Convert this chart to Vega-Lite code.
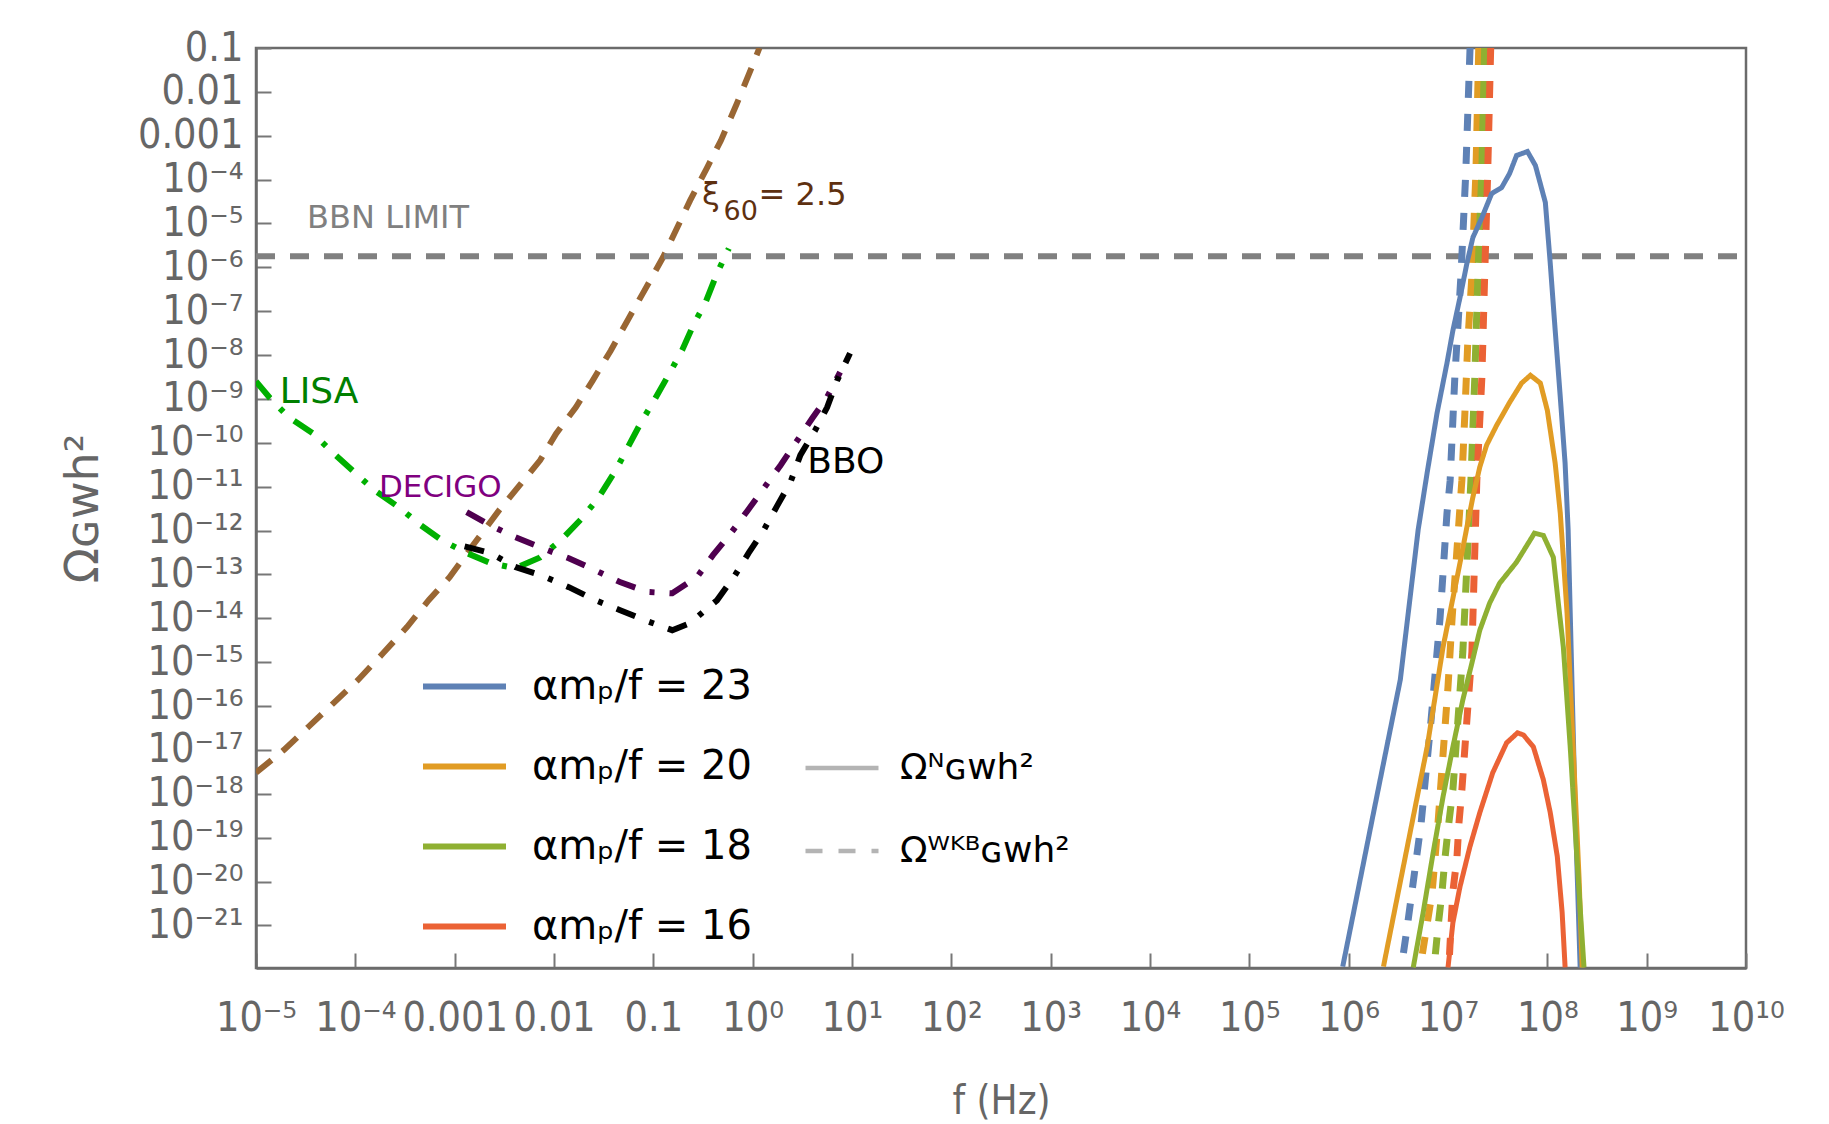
{
  "$schema": "https://vega.github.io/schema/vega-lite/v6.json",
  "width": 1490,
  "height": 920,
  "autosize": "none",
  "padding": {"left": 256, "top": 48, "right": 83, "bottom": 156},
  "background": "white",
  "config": {"view": {"stroke": "#6b6b6b", "strokeWidth": 2.5}, "font": "DejaVu Sans"},
  "datasets": {
    "sig": [
      {"a":"23","k":"N","f":8.71e5,"o":1.15e-22},{"a":"23","k":"N","f":1.12e6,"o":1.95e-21},{"a":"23","k":"N","f":1.78e6,"o":3.72e-19},{"a":"23","k":"N","f":3.31e6,"o":3.98e-16},{"a":"23","k":"N","f":5.01e6,"o":1.05e-12},{"a":"23","k":"N","f":6.17e6,"o":2.09e-11},{"a":"23","k":"N","f":7.76e6,"o":4.79e-10},{"a":"23","k":"N","f":9.77e6,"o":6.61e-9},{"a":"23","k":"N","f":1.12e7,"o":3.63e-8},{"a":"23","k":"N","f":1.32e7,"o":2.04e-7},{"a":"23","k":"N","f":1.55e7,"o":1.23e-6},{"a":"23","k":"N","f":1.78e7,"o":4.79e-6},{"a":"23","k":"N","f":2.19e7,"o":1.35e-5},{"a":"23","k":"N","f":2.75e7,"o":4.79e-5},{"a":"23","k":"N","f":3.47e7,"o":6.61e-5},{"a":"23","k":"N","f":4.17e7,"o":1.38e-4},{"a":"23","k":"N","f":4.90e7,"o":3.55e-4},{"a":"23","k":"N","f":6.31e7,"o":4.37e-4},{"a":"23","k":"N","f":7.59e7,"o":2.09e-4},{"a":"23","k":"N","f":9.55e7,"o":3.02e-5},{"a":"23","k":"N","f":1.07e8,"o":1.23e-6},{"a":"23","k":"N","f":1.20e8,"o":3.63e-8},{"a":"23","k":"N","f":1.35e8,"o":1.10e-9},{"a":"23","k":"N","f":1.51e8,"o":3.39e-11},{"a":"23","k":"N","f":1.62e8,"o":1.02e-12},{"a":"23","k":"N","f":1.70e8,"o":1.32e-14},{"a":"23","k":"N","f":1.91e8,"o":3.72e-19},{"a":"23","k":"N","f":2.14e8,"o":1.10e-22},
      {"a":"20","k":"N","f":2.24e6,"o":1.15e-22},{"a":"20","k":"N","f":3.89e6,"o":6.17e-20},{"a":"20","k":"N","f":6.17e6,"o":1.17e-17},{"a":"20","k":"N","f":8.91e6,"o":2.19e-15},{"a":"20","k":"N","f":1.32e7,"o":1.82e-13},{"a":"20","k":"N","f":1.55e7,"o":1.20e-12},{"a":"20","k":"N","f":1.78e7,"o":5.75e-12},{"a":"20","k":"N","f":1.95e7,"o":1.41e-11},{"a":"20","k":"N","f":2.09e7,"o":2.82e-11},{"a":"20","k":"N","f":2.45e7,"o":8.91e-11},{"a":"20","k":"N","f":3.09e7,"o":2.51e-10},{"a":"20","k":"N","f":4.17e7,"o":8.32e-10},{"a":"20","k":"N","f":5.50e7,"o":2.29e-9},{"a":"20","k":"N","f":6.76e7,"o":3.47e-9},{"a":"20","k":"N","f":8.51e7,"o":2.29e-9},{"a":"20","k":"N","f":1.00e8,"o":5.50e-10},{"a":"20","k":"N","f":1.20e8,"o":3.39e-11},{"a":"20","k":"N","f":1.35e8,"o":2.51e-12},{"a":"20","k":"N","f":1.58e8,"o":1.32e-14},{"a":"20","k":"N","f":1.82e8,"o":1.17e-17},{"a":"20","k":"N","f":2.09e8,"o":1.10e-20},{"a":"20","k":"N","f":2.24e8,"o":1.10e-22},
      {"a":"18","k":"N","f":4.47e6,"o":1.10e-22},{"a":"18","k":"N","f":5.62e6,"o":1.95e-21},{"a":"18","k":"N","f":7.08e6,"o":4.47e-20},{"a":"18","k":"N","f":8.91e6,"o":8.51e-19},{"a":"18","k":"N","f":1.12e7,"o":1.17e-17},{"a":"18","k":"N","f":1.41e7,"o":1.38e-16},{"a":"18","k":"N","f":1.74e7,"o":9.55e-16},{"a":"18","k":"N","f":2.09e7,"o":5.37e-15},{"a":"18","k":"N","f":2.63e7,"o":2.24e-14},{"a":"18","k":"N","f":3.31e7,"o":6.31e-14},{"a":"18","k":"N","f":4.90e7,"o":1.91e-13},{"a":"18","k":"N","f":7.41e7,"o":8.71e-13},{"a":"18","k":"N","f":9.12e7,"o":7.76e-13},{"a":"18","k":"N","f":1.15e8,"o":2.45e-13},{"a":"18","k":"N","f":1.29e8,"o":2.24e-14},{"a":"18","k":"N","f":1.45e8,"o":2.19e-15},{"a":"18","k":"N","f":1.70e8,"o":1.17e-17},{"a":"18","k":"N","f":2.00e8,"o":2.69e-20},{"a":"18","k":"N","f":2.34e8,"o":1.10e-22},
      {"a":"16","k":"N","f":1.00e7,"o":1.10e-22},{"a":"16","k":"N","f":1.12e7,"o":1.15e-21},{"a":"16","k":"N","f":1.32e7,"o":7.59e-21},{"a":"16","k":"N","f":1.66e7,"o":6.17e-20},{"a":"16","k":"N","f":2.09e7,"o":3.72e-19},{"a":"16","k":"N","f":2.82e7,"o":3.02e-18},{"a":"16","k":"N","f":3.89e7,"o":1.45e-17},{"a":"16","k":"N","f":5.01e7,"o":2.45e-17},{"a":"16","k":"N","f":5.75e7,"o":2.19e-17},{"a":"16","k":"N","f":7.24e7,"o":1.17e-17},{"a":"16","k":"N","f":9.12e7,"o":2.09e-18},{"a":"16","k":"N","f":1.07e8,"o":3.72e-19},{"a":"16","k":"N","f":1.26e8,"o":3.72e-20},{"a":"16","k":"N","f":1.41e8,"o":1.95e-21},{"a":"16","k":"N","f":1.51e8,"o":1.10e-22},
      {"a":"23","k":"WKB","f":1.667e7,"o":0.1},{"a":"23","k":"WKB","f":1.51e7,"o":1.45e-4},{"a":"23","k":"WKB","f":1.35e7,"o":6.46e-7},{"a":"23","k":"WKB","f":1.17e7,"o":2.95e-9},{"a":"23","k":"WKB","f":1.05e7,"o":1.35e-11},{"a":"23","k":"WKB","f":9.77e6,"o":2.51e-12},{"a":"23","k":"WKB","f":8.32e6,"o":1.02e-14},{"a":"23","k":"WKB","f":6.76e6,"o":4.90e-17},{"a":"23","k":"WKB","f":5.37e6,"o":2.19e-19},{"a":"23","k":"WKB","f":3.89e6,"o":9.33e-22},{"a":"23","k":"WKB","f":3.39e6,"o":1.10e-22},
      {"a":"20","k":"WKB","f":2.04e7,"o":0.1},{"a":"20","k":"WKB","f":1.91e7,"o":1.45e-4},{"a":"20","k":"WKB","f":1.74e7,"o":6.46e-7},{"a":"20","k":"WKB","f":1.58e7,"o":1.82e-8},{"a":"20","k":"WKB","f":1.48e7,"o":4.90e-10},{"a":"20","k":"WKB","f":1.38e7,"o":1.41e-11},{"a":"20","k":"WKB","f":1.23e7,"o":3.55e-13},{"a":"20","k":"WKB","f":1.10e7,"o":1.02e-14},{"a":"20","k":"WKB","f":1.00e7,"o":2.75e-16},{"a":"20","k":"WKB","f":8.91e6,"o":7.76e-18},{"a":"20","k":"WKB","f":7.94e6,"o":2.19e-19},{"a":"20","k":"WKB","f":6.92e6,"o":5.62e-21},{"a":"20","k":"WKB","f":5.25e6,"o":1.10e-22},
      {"a":"18","k":"WKB","f":2.34e7,"o":0.1},{"a":"18","k":"WKB","f":2.19e7,"o":1.45e-4},{"a":"18","k":"WKB","f":2.00e7,"o":6.46e-7},{"a":"18","k":"WKB","f":1.86e7,"o":2.95e-9},{"a":"18","k":"WKB","f":1.70e7,"o":1.35e-11},{"a":"18","k":"WKB","f":1.41e7,"o":1.70e-15},{"a":"18","k":"WKB","f":1.26e7,"o":4.90e-17},{"a":"18","k":"WKB","f":1.12e7,"o":1.23e-18},{"a":"18","k":"WKB","f":1.02e7,"o":2.19e-19},{"a":"18","k":"WKB","f":9.33e6,"o":3.47e-20},{"a":"18","k":"WKB","f":8.71e6,"o":5.89e-21},{"a":"18","k":"WKB","f":7.94e6,"o":9.33e-22},{"a":"18","k":"WKB","f":7.24e6,"o":1.10e-22},
      {"a":"16","k":"WKB","f":2.69e7,"o":0.1},{"a":"16","k":"WKB","f":2.51e7,"o":1.45e-4},{"a":"16","k":"WKB","f":2.34e7,"o":6.46e-7},{"a":"16","k":"WKB","f":2.19e7,"o":2.95e-9},{"a":"16","k":"WKB","f":1.95e7,"o":1.35e-11},{"a":"16","k":"WKB","f":1.74e7,"o":1.70e-15},{"a":"16","k":"WKB","f":1.55e7,"o":4.90e-17},{"a":"16","k":"WKB","f":1.38e7,"o":1.23e-18},{"a":"16","k":"WKB","f":1.29e7,"o":2.19e-19},{"a":"16","k":"WKB","f":1.23e7,"o":3.47e-20},{"a":"16","k":"WKB","f":1.12e7,"o":5.89e-21},{"a":"16","k":"WKB","f":1.07e7,"o":9.33e-22},{"a":"16","k":"WKB","f":1.02e7,"o":1.10e-22}
    ],
    "det": [
      {"c":"xi","f":1e-5,"o":3.02e-18},{"c":"xi","f":1.91e-5,"o":1e-17},{"c":"xi","f":3.39e-5,"o":3.39e-17},{"c":"xi","f":6.03e-5,"o":1.17e-16},{"c":"xi","f":1.07e-4,"o":3.98e-16},{"c":"xi","f":1.91e-4,"o":1.62e-15},{"c":"xi","f":3.31e-4,"o":6.31e-15},{"c":"xi","f":5.50e-4,"o":2.63e-14},{"c":"xi","f":8.91e-4,"o":8.71e-14},{"c":"xi","f":1.58e-3,"o":5.13e-13},{"c":"xi","f":2.82e-3,"o":2.95e-12},{"c":"xi","f":7.24e-3,"o":3.98e-11},{"c":"xi","f":1.05e-2,"o":1.62e-10},{"c":"xi","f":1.66e-2,"o":6.46e-10},{"c":"xi","f":2.45e-2,"o":2.63e-9},{"c":"xi","f":3.72e-2,"o":1.26e-8},{"c":"xi","f":5.50e-2,"o":6.17e-8},{"c":"xi","f":8.13e-2,"o":2.95e-7},{"c":"xi","f":0.126,"o":1.74e-6},{"c":"xi","f":0.234,"o":3.31e-5},{"c":"xi","f":0.347,"o":1.86e-4},{"c":"xi","f":0.479,"o":7.76e-4},{"c":"xi","f":0.692,"o":5.37e-3},{"c":"xi","f":1.02,"o":4.57e-2},{"c":"xi","f":1.17,"o":0.1},
      {"c":"lisa","f":1e-5,"o":2.51e-9},{"c":"lisa","f":1.38e-5,"o":1.05e-9},{"c":"lisa","f":2.14e-5,"o":3.80e-10},{"c":"lisa","f":3.72e-5,"o":1.66e-10},{"c":"lisa","f":6.03e-5,"o":5.75e-11},{"c":"lisa","f":9.77e-5,"o":2.14e-11},{"c":"lisa","f":1.55e-4,"o":8.32e-12},{"c":"lisa","f":2.75e-4,"o":3.39e-12},{"c":"lisa","f":4.57e-4,"o":1.32e-12},{"c":"lisa","f":7.41e-4,"o":6.03e-13},{"c":"lisa","f":1.32e-3,"o":3.09e-13},{"c":"lisa","f":2.29e-3,"o":1.82e-13},{"c":"lisa","f":4.07e-3,"o":1.38e-13},{"c":"lisa","f":7.24e-3,"o":2.45e-13},{"c":"lisa","f":1.17e-2,"o":6.03e-13},{"c":"lisa","f":1.95e-2,"o":2.0e-12},{"c":"lisa","f":2.82e-2,"o":5.75e-12},{"c":"lisa","f":4.17e-2,"o":2.34e-11},{"c":"lisa","f":7.41e-2,"o":2.75e-10},{"c":"lisa","f":0.102,"o":9.33e-10},{"c":"lisa","f":0.145,"o":3.80e-9},{"c":"lisa","f":0.195,"o":1.29e-8},{"c":"lisa","f":0.257,"o":5.25e-8},{"c":"lisa","f":0.331,"o":1.48e-7},{"c":"lisa","f":0.437,"o":7.24e-7},{"c":"lisa","f":0.575,"o":2.69e-6},
      {"c":"decigo","f":1.32e-3,"o":2.63e-12},{"c":"decigo","f":2.29e-3,"o":1.32e-12},{"c":"decigo","f":4.07e-3,"o":7.08e-13},{"c":"decigo","f":7.24e-3,"o":4.17e-13},{"c":"decigo","f":1.41e-2,"o":2.34e-13},{"c":"decigo","f":2.57e-2,"o":1.26e-13},{"c":"decigo","f":4.68e-2,"o":6.61e-14},{"c":"decigo","f":8.71e-2,"o":3.98e-14},{"c":"decigo","f":0.155,"o":3.72e-14},{"c":"decigo","f":0.275,"o":8.71e-14},{"c":"decigo","f":0.398,"o":2.75e-13},{"c":"decigo","f":0.603,"o":8.71e-13},{"c":"decigo","f":0.891,"o":2.88e-12},{"c":"decigo","f":1.29,"o":9.12e-12},{"c":"decigo","f":1.91,"o":3.09e-11},{"c":"decigo","f":2.69,"o":9.77e-11},{"c":"decigo","f":3.98,"o":3.63e-10},{"c":"decigo","f":5.62,"o":1.10e-9},{"c":"decigo","f":7.59,"o":4.07e-9},
      {"c":"bbo","f":1.26e-3,"o":4.37e-13},{"c":"bbo","f":2.29e-3,"o":3.09e-13},{"c":"bbo","f":4.07e-3,"o":1.48e-13},{"c":"bbo","f":7.24e-3,"o":9.77e-14},{"c":"bbo","f":1.41e-2,"o":5.13e-14},{"c":"bbo","f":2.57e-2,"o":2.63e-14},{"c":"bbo","f":4.57e-2,"o":1.55e-14},{"c":"bbo","f":8.13e-2,"o":9.12e-15},{"c":"bbo","f":0.155,"o":5.37e-15},{"c":"bbo","f":0.234,"o":7.76e-15},{"c":"bbo","f":0.437,"o":2.57e-14},{"c":"bbo","f":0.646,"o":8.71e-14},{"c":"bbo","f":0.912,"o":3.09e-13},{"c":"bbo","f":1.29,"o":1.02e-12},{"c":"bbo","f":1.78,"o":3.80e-12},{"c":"bbo","f":2.40,"o":1.26e-11},{"c":"bbo","f":3.02,"o":5.25e-11},{"c":"bbo","f":4.27,"o":1.95e-10},{"c":"bbo","f":5.62,"o":6.46e-10},{"c":"bbo","f":7.08,"o":2.63e-9},{"c":"bbo","f":9.55,"o":1.10e-8}
    ],
    "notes": [
      {"t":"BBN LIMIT","f":3.27e-5,"o":7.8e-6},
      {"t":"LISA","f":1.73e-5,"o":7.9e-10},
      {"t":"DECIGO","f":1.73e-4,"o":5.9e-12},
      {"t":"BBO","f":3.55,"o":2.04e-11},
      {"t":"ξ","f":0.309,"o":2.57e-5},
      {"t":"60","f":0.51,"o":1.17e-5},
      {"t":"= 2.5","f":1.148,"o":2.57e-5}
    ],
    "bbn": [{"f":1e-5,"f2":1e10,"o":1.78e-6}]
  },
  "encoding": {
    "x": {
      "field": "f", "type": "quantitative",
      "scale": {"type": "log", "domain": [1e-5, 1e10], "nice": false},
      "axis": {
        "values": [1e-5,1e-4,1e-3,1e-2,1e-1,1,10,100,1000,1e4,1e5,1e6,1e7,1e8,1e9,1e10],
        "labelExpr": "round(log(datum.value)/LN10) == -3 ? '0.001' : round(log(datum.value)/LN10) == -2 ? '0.01' : round(log(datum.value)/LN10) == -1 ? '0.1' : '10' + (round(log(datum.value)/LN10) < 0 ? '⁻' : '') + (abs(round(log(datum.value)/LN10)) >= 10 ? ['⁰','¹','²','³','⁴','⁵','⁶','⁷','⁸','⁹'][floor(abs(round(log(datum.value)/LN10))/10)] : '') + ['⁰','¹','²','³','⁴','⁵','⁶','⁷','⁸','⁹'][abs(round(log(datum.value)/LN10)) % 10]",
        "labelFont": "DejaVu Sans Condensed", "labelFontSize": 41, "labelColor": "#666666",
        "labelOverlap": false, "labelFlush": false, "labelBound": false,
        "labelPadding": 45, "tickSize": -15, "tickColor": "#777777", "tickWidth": 2,
        "domainColor": "#6b6b6b", "domainWidth": 2.5, "grid": false,
        "title": "f (Hz)", "titleFont": "DejaVu Sans Condensed", "titleFontSize": 40,
        "titleFontWeight": "normal", "titleColor": "#666666", "titlePadding": 43
      }
    },
    "y": {
      "field": "o", "type": "quantitative",
      "scale": {"type": "log", "domain": [1.07e-22, 0.1], "nice": false},
      "axis": {
        "values": [1e-1,1e-2,1e-3,1e-4,1e-5,1e-6,1e-7,1e-8,1e-9,1e-10,1e-11,1e-12,1e-13,1e-14,1e-15,1e-16,1e-17,1e-18,1e-19,1e-20,1e-21],
        "labelExpr": "round(log(datum.value)/LN10) == -1 ? '0.1' : round(log(datum.value)/LN10) == -2 ? '0.01' : round(log(datum.value)/LN10) == -3 ? '0.001' : '10⁻' + (-round(log(datum.value)/LN10) >= 10 ? ['⁰','¹','²','³','⁴','⁵','⁶','⁷','⁸','⁹'][floor(-round(log(datum.value)/LN10)/10)] : '') + ['⁰','¹','²','³','⁴','⁵','⁶','⁷','⁸','⁹'][(-round(log(datum.value)/LN10)) % 10]",
        "labelFont": "DejaVu Sans Condensed", "labelFontSize": 41, "labelColor": "#666666",
        "labelOverlap": false, "labelFlush": false, "labelBound": false,
        "labelPadding": 28, "tickSize": -15, "tickColor": "#777777", "tickWidth": 2,
        "domainColor": "#6b6b6b", "domainWidth": 2.5, "grid": false,
        "title": "Ωɢᴡh²", "titleFont": "DejaVu Sans", "titleFontSize": 46,
        "titleFontWeight": "normal", "titleColor": "#666666", "titlePadding": 30
      }
    }
  },
  "layer": [
    {"data": {"name": "det"}, "transform": [{"filter": "datum.c == 'xi'"}],
     "mark": {"type": "line", "clip": true, "color": "#996633", "strokeWidth": 6, "strokeDash": [20, 14]}},
    {"data": {"name": "det"}, "transform": [{"filter": "datum.c == 'lisa'"}],
     "mark": {"type": "line", "clip": true, "color": "#00b000", "strokeWidth": 6, "strokeDash": [22, 14, 5, 14]}},
    {"data": {"name": "det"}, "transform": [{"filter": "datum.c == 'decigo'"}],
     "mark": {"type": "line", "clip": true, "color": "#4f004f", "strokeWidth": 6, "strokeDash": [20, 15, 5, 15]}},
    {"data": {"name": "det"}, "transform": [{"filter": "datum.c == 'bbo'"}],
     "mark": {"type": "line", "clip": true, "color": "#000000", "strokeWidth": 6, "strokeDash": [20, 15, 5, 15]}},
    {"data": {"name": "bbn"},
     "mark": {"type": "rule", "color": "#808080", "strokeWidth": 6, "strokeDash": [19, 15]},
     "encoding": {"x2": {"field": "f2"}}},
    {"data": {"name": "sig"}, "transform": [{"filter": "datum.k == 'WKB'"}],
     "mark": {"type": "line", "clip": true, "strokeWidth": 7},
     "encoding": {
       "order": {"field": "o", "type": "quantitative", "sort": "descending"},
       "color": {"field": "a", "type": "nominal",
         "scale": {"domain": ["23","20","18","16"], "range": ["#5e81b5","#e19c24","#8fb032","#eb6235"]},
         "legend": {"title": null, "orient": "none", "legendX": 164, "legendY": 594, "symbolType": "stroke", "symbolSize": 6889, "symbolStrokeWidth": 6, "labelFont": "DejaVu Sans", "labelFontSize": 40, "labelColor": "black", "labelOffset": 23, "labelLimit": 1000, "rowPadding": 15, "padding": 0,
           "labelExpr": "datum.label == '23' ? 'αmₚ/f =  23' : 'αmₚ/f = ' + datum.label"}},
       "strokeDash": {"field": "k", "type": "nominal",
         "scale": {"domain": ["N","WKB"], "range": [[1,0],[17,16]]},
         "legend": {"title": null, "orient": "none", "legendX": 547, "legendY": 681, "symbolType": "stroke", "symbolSize": 5329, "symbolStrokeWidth": 4.5, "symbolStrokeColor": "#b4b4b4", "labelFont": "DejaVu Sans", "labelFontSize": 36, "labelColor": "black", "labelOffset": 19, "labelLimit": 1000, "rowPadding": 26, "padding": 0,
           "labelExpr": "datum.label == 'N' ? 'Ωᴺɢᴡh²' : 'Ωᵂᴷᴮɢᴡh²'"}}
     }},
    {"data": {"name": "sig"}, "transform": [{"filter": "datum.k == 'N'"}],
     "mark": {"type": "line", "clip": true, "strokeWidth": 5},
     "encoding": {
       "color": {"field": "a", "type": "nominal"},
       "strokeDash": {"field": "k", "type": "nominal"}
     }},
    {"data": {"name": "notes"}, "transform": [{"filter": "datum.t == 'BBN LIMIT'"}],
     "mark": {"type": "text", "align": "left", "baseline": "alphabetic", "fontSize": 32, "color": "#808080", "font": "DejaVu Sans"},
     "encoding": {"text": {"field": "t"}}},
    {"data": {"name": "notes"}, "transform": [{"filter": "datum.t == 'LISA'"}],
     "mark": {"type": "text", "align": "left", "baseline": "alphabetic", "fontSize": 36, "color": "#008000", "font": "DejaVu Sans"},
     "encoding": {"text": {"field": "t"}}},
    {"data": {"name": "notes"}, "transform": [{"filter": "datum.t == 'DECIGO'"}],
     "mark": {"type": "text", "align": "left", "baseline": "alphabetic", "fontSize": 31, "color": "#800080", "font": "DejaVu Sans"},
     "encoding": {"text": {"field": "t"}}},
    {"data": {"name": "notes"}, "transform": [{"filter": "datum.t == 'BBO'"}],
     "mark": {"type": "text", "align": "left", "baseline": "alphabetic", "fontSize": 36, "color": "#000000", "font": "DejaVu Sans"},
     "encoding": {"text": {"field": "t"}}},
    {"data": {"name": "notes"}, "transform": [{"filter": "datum.t == 'ξ' || datum.t == '= 2.5'"}],
     "mark": {"type": "text", "align": "left", "baseline": "alphabetic", "fontSize": 32, "color": "#5e3010", "font": "DejaVu Sans"},
     "encoding": {"text": {"field": "t"}}},
    {"data": {"name": "notes"}, "transform": [{"filter": "datum.t == '60'"}],
     "mark": {"type": "text", "align": "left", "baseline": "alphabetic", "fontSize": 27, "color": "#5e3010", "font": "DejaVu Sans"},
     "encoding": {"text": {"field": "t"}}}
  ]
}
